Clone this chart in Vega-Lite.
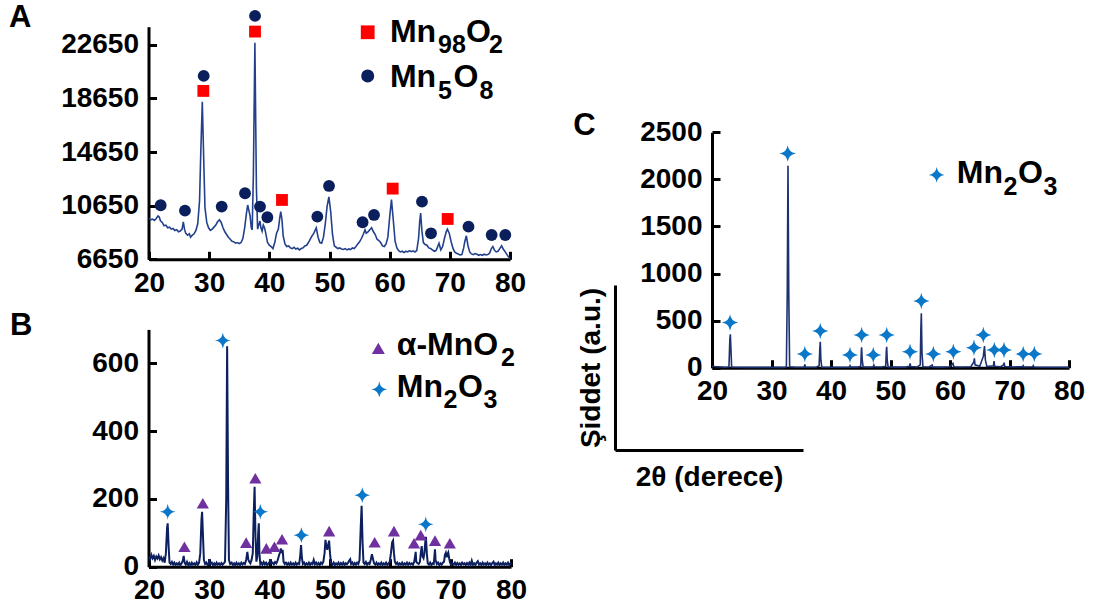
{
  "$schema": "https://vega.github.io/schema/vega-lite/v6.json",
  "width": 1098,
  "height": 614,
  "autosize": {"type": "none"},
  "padding": 0,
  "background": "white",
  "config": {
    "view": {"stroke": null},
    "font": "Liberation Sans",
    "numberFormat": "d",
    "axis": {
      "labelFont": "Liberation Sans", "labelFontSize": 28, "labelFontWeight": "bold", "labelColor": "black",
      "domainColor": "black", "domainWidth": 3, "tickColor": "black", "tickWidth": 3, "tickSize": -8,
      "labelPadding": 18, "grid": false, "labelFlush": false, "labelOverlap": false, "format": "d",
      "titleFont": "Liberation Sans", "titleFontSize": 28, "titleFontWeight": "bold", "titleColor": "black"
    }
  },
  "datasets": {
    "a_line": [
      {"theta":20.0,"intensity":9700},{"theta":20.3,"intensity":9600},{"theta":20.6,"intensity":9650},{"theta":20.9,"intensity":9550},
      {"theta":21.2,"intensity":9700},{"theta":21.5,"intensity":9880},{"theta":21.7,"intensity":9800},{"theta":21.9,"intensity":9520},
      {"theta":22.2,"intensity":9400},{"theta":22.5,"intensity":9150},{"theta":22.8,"intensity":9200},{"theta":23.1,"intensity":9000},
      {"theta":23.4,"intensity":9050},{"theta":23.7,"intensity":8900},{"theta":24.0,"intensity":8950},{"theta":24.3,"intensity":8800},
      {"theta":24.6,"intensity":8850},{"theta":24.9,"intensity":8700},{"theta":25.2,"intensity":8760},{"theta":25.5,"intensity":8900},
      {"theta":25.7,"intensity":9450},{"theta":25.9,"intensity":8900},{"theta":26.1,"intensity":8600},{"theta":26.4,"intensity":8450},
      {"theta":26.7,"intensity":8550},{"theta":26.9,"intensity":8300},{"theta":27.2,"intensity":8450},{"theta":27.5,"intensity":8550},
      {"theta":27.8,"intensity":8800},{"theta":28.1,"intensity":9300},{"theta":28.4,"intensity":11000},{"theta":28.6,"intensity":14500},
      {"theta":28.86,"intensity":18400},{"theta":29.1,"intensity":14000},{"theta":29.3,"intensity":10500},{"theta":29.6,"intensity":9400},
      {"theta":29.9,"intensity":9000},{"theta":30.2,"intensity":8800},{"theta":30.5,"intensity":8900},{"theta":30.8,"intensity":9050},
      {"theta":31.1,"intensity":9200},{"theta":31.4,"intensity":9450},{"theta":31.7,"intensity":9600},{"theta":32.0,"intensity":9400},
      {"theta":32.3,"intensity":9000},{"theta":32.6,"intensity":8700},{"theta":32.9,"intensity":8500},{"theta":33.2,"intensity":8300},
      {"theta":33.5,"intensity":8150},{"theta":33.8,"intensity":8000},{"theta":34.1,"intensity":7950},{"theta":34.4,"intensity":7850},
      {"theta":34.7,"intensity":7900},{"theta":35.0,"intensity":7820},{"theta":35.3,"intensity":7900},{"theta":35.6,"intensity":8200},
      {"theta":35.9,"intensity":9000},{"theta":36.2,"intensity":10100},{"theta":36.4,"intensity":10700},{"theta":36.6,"intensity":10300},
      {"theta":36.8,"intensity":9900},{"theta":37.0,"intensity":9000},{"theta":37.15,"intensity":8850},{"theta":37.35,"intensity":13000},
      {"theta":37.6,"intensity":22800},{"theta":37.85,"intensity":12000},{"theta":38.05,"intensity":8900},{"theta":38.3,"intensity":9300},
      {"theta":38.45,"intensity":9500},{"theta":38.6,"intensity":9000},{"theta":38.8,"intensity":8750},{"theta":39.0,"intensity":9200},
      {"theta":39.2,"intensity":9000},{"theta":39.4,"intensity":8600},{"theta":39.7,"intensity":7900},{"theta":40.0,"intensity":7700},
      {"theta":40.3,"intensity":7600},{"theta":40.6,"intensity":7450},{"theta":40.9,"intensity":7900},{"theta":41.2,"intensity":8600},
      {"theta":41.5,"intensity":8900},{"theta":41.75,"intensity":9800},{"theta":41.9,"intensity":10200},{"theta":42.1,"intensity":9600},
      {"theta":42.3,"intensity":8400},{"theta":42.6,"intensity":7800},{"theta":42.9,"intensity":7600},{"theta":43.2,"intensity":7650},
      {"theta":43.5,"intensity":7500},{"theta":43.8,"intensity":7450},{"theta":44.1,"intensity":7550},{"theta":44.4,"intensity":7420},
      {"theta":44.7,"intensity":7480},{"theta":45.0,"intensity":7350},{"theta":45.3,"intensity":7450},{"theta":45.6,"intensity":7500},
      {"theta":45.9,"intensity":7650},{"theta":46.2,"intensity":7700},{"theta":46.5,"intensity":7900},{"theta":46.8,"intensity":8150},
      {"theta":47.1,"intensity":8400},{"theta":47.4,"intensity":8600},{"theta":47.8,"intensity":9000},{"theta":48.1,"intensity":8300},
      {"theta":48.4,"intensity":7900},{"theta":48.7,"intensity":7850},{"theta":49.0,"intensity":8300},{"theta":49.3,"intensity":9300},
      {"theta":49.6,"intensity":10600},{"theta":49.9,"intensity":11300},{"theta":50.2,"intensity":10200},{"theta":50.5,"intensity":8500},
      {"theta":50.8,"intensity":7650},{"theta":51.1,"intensity":7550},{"theta":51.4,"intensity":7450},{"theta":51.7,"intensity":7500},
      {"theta":52.0,"intensity":7420},{"theta":52.3,"intensity":7380},{"theta":52.6,"intensity":7450},{"theta":52.9,"intensity":7350},
      {"theta":53.2,"intensity":7420},{"theta":53.5,"intensity":7380},{"theta":53.8,"intensity":7500},{"theta":54.1,"intensity":7450},
      {"theta":54.4,"intensity":7600},{"theta":54.7,"intensity":7800},{"theta":55.0,"intensity":7950},{"theta":55.3,"intensity":8200},
      {"theta":55.6,"intensity":8500},{"theta":55.9,"intensity":8850},{"theta":56.1,"intensity":8600},{"theta":56.4,"intensity":8700},
      {"theta":56.7,"intensity":8850},{"theta":57.0,"intensity":9000},{"theta":57.3,"intensity":8700},{"theta":57.6,"intensity":8500},
      {"theta":57.9,"intensity":8150},{"theta":58.2,"intensity":8050},{"theta":58.5,"intensity":7900},{"theta":58.8,"intensity":7650},
      {"theta":59.1,"intensity":7600},{"theta":59.4,"intensity":7800},{"theta":59.7,"intensity":8300},{"theta":60.0,"intensity":9800},
      {"theta":60.3,"intensity":11100},{"theta":60.6,"intensity":9600},{"theta":60.9,"intensity":8000},{"theta":61.2,"intensity":7500},
      {"theta":61.5,"intensity":7300},{"theta":61.8,"intensity":7200},{"theta":62.1,"intensity":7250},{"theta":62.4,"intensity":7150},
      {"theta":62.7,"intensity":7250},{"theta":63.0,"intensity":7200},{"theta":63.3,"intensity":7300},{"theta":63.6,"intensity":7220},
      {"theta":63.9,"intensity":7280},{"theta":64.2,"intensity":7200},{"theta":64.5,"intensity":7300},{"theta":64.8,"intensity":8200},
      {"theta":65.0,"intensity":9500},{"theta":65.15,"intensity":10100},{"theta":65.35,"intensity":8800},{"theta":65.6,"intensity":7900},
      {"theta":65.9,"intensity":7750},{"theta":66.2,"intensity":7700},{"theta":66.5,"intensity":7500},{"theta":66.8,"intensity":7450},
      {"theta":67.1,"intensity":7350},{"theta":67.4,"intensity":7250},{"theta":67.7,"intensity":7300},{"theta":67.9,"intensity":7500},
      {"theta":68.2,"intensity":7850},{"theta":68.5,"intensity":7350},{"theta":68.8,"intensity":7600},{"theta":69.1,"intensity":8200},
      {"theta":69.4,"intensity":8700},{"theta":69.6,"intensity":8900},{"theta":69.9,"intensity":8600},{"theta":70.2,"intensity":8000},
      {"theta":70.5,"intensity":7500},{"theta":70.8,"intensity":7200},{"theta":71.1,"intensity":7100},{"theta":71.4,"intensity":7050},
      {"theta":71.7,"intensity":6980},{"theta":72.0,"intensity":7000},{"theta":72.3,"intensity":7500},{"theta":72.5,"intensity":8000},
      {"theta":72.75,"intensity":8400},{"theta":73.0,"intensity":7700},{"theta":73.3,"intensity":7200},{"theta":73.6,"intensity":7050},
      {"theta":73.9,"intensity":7000},{"theta":74.2,"intensity":7080},{"theta":74.5,"intensity":7020},{"theta":74.8,"intensity":6950},
      {"theta":75.1,"intensity":7000},{"theta":75.4,"intensity":6950},{"theta":75.7,"intensity":7030},{"theta":76.0,"intensity":6980},
      {"theta":76.3,"intensity":7000},{"theta":76.6,"intensity":7100},{"theta":76.9,"intensity":7450},{"theta":77.15,"intensity":7600},
      {"theta":77.4,"intensity":7350},{"theta":77.7,"intensity":7200},{"theta":78.0,"intensity":7250},{"theta":78.3,"intensity":7450},
      {"theta":78.6,"intensity":7650},{"theta":78.9,"intensity":7400},{"theta":79.2,"intensity":7200},{"theta":79.5,"intensity":7000},
      {"theta":79.8,"intensity":6800},{"theta":80.0,"intensity":6700}
    ],
    "a_peaks": [
      {"phase":"Mn98O2","theta":29.03,"intensity":19209},{"phase":"Mn98O2","theta":37.62,"intensity":23636},
      {"phase":"Mn98O2","theta":42.1,"intensity":11077},{"phase":"Mn98O2","theta":60.5,"intensity":11922},
      {"phase":"Mn98O2","theta":69.64,"intensity":9659},
      {"phase":"Mn5O8","theta":21.94,"intensity":10679},{"phase":"Mn5O8","theta":25.98,"intensity":10281},
      {"phase":"Mn5O8","theta":29.09,"intensity":20329},{"phase":"Mn5O8","theta":32.08,"intensity":10580},
      {"phase":"Mn5O8","theta":35.96,"intensity":11574},{"phase":"Mn5O8","theta":37.62,"intensity":24805},
      {"phase":"Mn5O8","theta":38.45,"intensity":10580},{"phase":"Mn5O8","theta":39.67,"intensity":9784},
      {"phase":"Mn5O8","theta":47.98,"intensity":9834},{"phase":"Mn5O8","theta":49.92,"intensity":12121},
      {"phase":"Mn5O8","theta":55.5,"intensity":9411},{"phase":"Mn5O8","theta":57.4,"intensity":9958},
      {"phase":"Mn5O8","theta":65.37,"intensity":10952},{"phase":"Mn5O8","theta":66.87,"intensity":8590},
      {"phase":"Mn5O8","theta":73.1,"intensity":9087},{"phase":"Mn5O8","theta":76.95,"intensity":8465},
      {"phase":"Mn5O8","theta":79.22,"intensity":8465}
    ],
    "a_key": [
      {"phase":"Mn98O2","theta":56.35,"intensity":23584},{"phase":"Mn5O8","theta":56.35,"intensity":20324}
    ],
    "a_text_main": [
      {"theta":60.05,"intensity":22883,"label":"Mn"},{"theta":72.68,"intensity":22883,"label":"O"},
      {"theta":60.05,"intensity":19481,"label":"Mn"},{"theta":70.61,"intensity":19481,"label":"O"}
    ],
    "a_text_sub": [
      {"theta":68.03,"intensity":22025,"label":"98"},{"theta":76.51,"intensity":22025,"label":"2"},
      {"theta":68.03,"intensity":18623,"label":"5"},{"theta":74.93,"intensity":18623,"label":"8"}
    ],
    "a_panel": [{"theta":-3.27,"intensity":23980,"label":"A"}],
    "b_line": [
      {"theta":20.0,"intensity":30},{"theta":20.2,"intensity":22},{"theta":20.4,"intensity":35},{"theta":20.6,"intensity":25},
      {"theta":20.8,"intensity":32},{"theta":21.0,"intensity":20},{"theta":21.2,"intensity":30},{"theta":21.4,"intensity":24},
      {"theta":21.6,"intensity":33},{"theta":21.8,"intensity":22},{"theta":22.0,"intensity":28},{"theta":22.2,"intensity":18},
      {"theta":22.4,"intensity":25},{"theta":22.6,"intensity":12},{"theta":22.8,"intensity":40},{"theta":23.0,"intensity":115},
      {"theta":23.1,"intensity":128},{"theta":23.25,"intensity":60},{"theta":23.4,"intensity":12},{"theta":23.6,"intensity":8},
      {"theta":23.8,"intensity":14},{"theta":24.0,"intensity":6},{"theta":24.2,"intensity":12},{"theta":24.4,"intensity":5},
      {"theta":24.6,"intensity":10},{"theta":24.8,"intensity":6},{"theta":25.0,"intensity":12},{"theta":25.2,"intensity":4},
      {"theta":25.4,"intensity":10},{"theta":25.6,"intensity":18},{"theta":25.75,"intensity":32},{"theta":25.9,"intensity":12},
      {"theta":26.1,"intensity":6},{"theta":26.3,"intensity":14},{"theta":26.5,"intensity":5},{"theta":26.7,"intensity":11},
      {"theta":26.9,"intensity":4},{"theta":27.1,"intensity":12},{"theta":27.3,"intensity":6},{"theta":27.5,"intensity":10},
      {"theta":27.7,"intensity":5},{"theta":27.9,"intensity":13},{"theta":28.1,"intensity":6},{"theta":28.3,"intensity":12},
      {"theta":28.5,"intensity":40},{"theta":28.7,"intensity":140},{"theta":28.8,"intensity":162},{"theta":28.95,"intensity":90},
      {"theta":29.1,"intensity":20},{"theta":29.3,"intensity":8},{"theta":29.5,"intensity":12},{"theta":29.7,"intensity":5},
      {"theta":29.9,"intensity":10},{"theta":30.0,"intensity":22},{"theta":30.15,"intensity":8},{"theta":30.4,"intensity":12},
      {"theta":30.6,"intensity":5},{"theta":30.8,"intensity":10},{"theta":31.0,"intensity":4},{"theta":31.2,"intensity":12},
      {"theta":31.4,"intensity":6},{"theta":31.6,"intensity":10},{"theta":31.8,"intensity":5},{"theta":32.0,"intensity":11},
      {"theta":32.2,"intensity":6},{"theta":32.4,"intensity":10},{"theta":32.6,"intensity":15},{"theta":32.8,"intensity":200},
      {"theta":32.95,"intensity":650},{"theta":33.1,"intensity":250},{"theta":33.25,"intensity":20},{"theta":33.45,"intensity":8},
      {"theta":33.7,"intensity":12},{"theta":33.9,"intensity":5},{"theta":34.1,"intensity":10},{"theta":34.3,"intensity":4},
      {"theta":34.5,"intensity":12},{"theta":34.7,"intensity":6},{"theta":34.9,"intensity":10},{"theta":35.1,"intensity":5},
      {"theta":35.3,"intensity":12},{"theta":35.5,"intensity":7},{"theta":35.7,"intensity":11},{"theta":35.9,"intensity":8},
      {"theta":36.1,"intensity":20},{"theta":36.3,"intensity":44},{"theta":36.45,"intensity":22},{"theta":36.6,"intensity":15},
      {"theta":36.8,"intensity":10},{"theta":37.0,"intensity":20},{"theta":37.2,"intensity":40},{"theta":37.35,"intensity":150},
      {"theta":37.5,"intensity":236},{"theta":37.65,"intensity":90},{"theta":37.8,"intensity":15},{"theta":37.95,"intensity":30},
      {"theta":38.1,"intensity":100},{"theta":38.2,"intensity":128},{"theta":38.3,"intensity":40},{"theta":38.45,"intensity":8},
      {"theta":38.6,"intensity":12},{"theta":38.8,"intensity":6},{"theta":39.0,"intensity":14},{"theta":39.2,"intensity":7},
      {"theta":39.4,"intensity":12},{"theta":39.6,"intensity":5},{"theta":39.8,"intensity":10},{"theta":40.0,"intensity":14},
      {"theta":40.1,"intensity":22},{"theta":40.25,"intensity":9},{"theta":40.5,"intensity":12},{"theta":40.7,"intensity":7},
      {"theta":40.9,"intensity":14},{"theta":41.1,"intensity":10},{"theta":41.3,"intensity":18},{"theta":41.5,"intensity":30},
      {"theta":41.7,"intensity":42},{"theta":41.85,"intensity":54},{"theta":42.0,"intensity":40},{"theta":42.15,"intensity":50},
      {"theta":42.3,"intensity":15},{"theta":42.5,"intensity":8},{"theta":42.7,"intensity":12},{"theta":42.9,"intensity":6},
      {"theta":43.1,"intensity":11},{"theta":43.3,"intensity":5},{"theta":43.5,"intensity":12},{"theta":43.7,"intensity":6},
      {"theta":43.9,"intensity":10},{"theta":44.1,"intensity":5},{"theta":44.3,"intensity":12},{"theta":44.5,"intensity":6},
      {"theta":44.7,"intensity":10},{"theta":44.9,"intensity":8},{"theta":45.05,"intensity":30},{"theta":45.2,"intensity":64},
      {"theta":45.35,"intensity":25},{"theta":45.5,"intensity":8},{"theta":45.7,"intensity":12},{"theta":45.9,"intensity":5},
      {"theta":46.1,"intensity":10},{"theta":46.3,"intensity":6},{"theta":46.5,"intensity":12},{"theta":46.7,"intensity":5},
      {"theta":46.9,"intensity":11},{"theta":47.1,"intensity":8},{"theta":47.3,"intensity":20},{"theta":47.5,"intensity":7},
      {"theta":47.7,"intensity":12},{"theta":47.9,"intensity":6},{"theta":48.1,"intensity":11},{"theta":48.3,"intensity":5},
      {"theta":48.5,"intensity":12},{"theta":48.7,"intensity":8},{"theta":48.9,"intensity":15},{"theta":49.1,"intensity":40},
      {"theta":49.25,"intensity":79},{"theta":49.4,"intensity":60},{"theta":49.55,"intensity":50},{"theta":49.7,"intensity":65},
      {"theta":49.85,"intensity":77},{"theta":50.0,"intensity":40},{"theta":50.15,"intensity":12},{"theta":50.4,"intensity":6},
      {"theta":50.6,"intensity":12},{"theta":50.8,"intensity":5},{"theta":51.0,"intensity":10},{"theta":51.2,"intensity":6},
      {"theta":51.4,"intensity":12},{"theta":51.6,"intensity":5},{"theta":51.8,"intensity":11},{"theta":52.0,"intensity":6},
      {"theta":52.2,"intensity":12},{"theta":52.4,"intensity":5},{"theta":52.6,"intensity":10},{"theta":52.8,"intensity":7},
      {"theta":53.0,"intensity":12},{"theta":53.2,"intensity":18},{"theta":53.35,"intensity":22},{"theta":53.5,"intensity":8},
      {"theta":53.7,"intensity":12},{"theta":53.9,"intensity":5},{"theta":54.1,"intensity":11},{"theta":54.3,"intensity":6},
      {"theta":54.5,"intensity":12},{"theta":54.7,"intensity":8},{"theta":54.9,"intensity":20},{"theta":55.1,"intensity":120},
      {"theta":55.24,"intensity":180},{"theta":55.4,"intensity":70},{"theta":55.55,"intensity":12},{"theta":55.75,"intensity":8},
      {"theta":55.95,"intensity":14},{"theta":56.15,"intensity":6},{"theta":56.35,"intensity":11},{"theta":56.55,"intensity":8},
      {"theta":56.75,"intensity":20},{"theta":56.95,"intensity":37},{"theta":57.1,"intensity":25},{"theta":57.3,"intensity":10},
      {"theta":57.5,"intensity":6},{"theta":57.7,"intensity":12},{"theta":57.9,"intensity":5},{"theta":58.1,"intensity":10},
      {"theta":58.3,"intensity":6},{"theta":58.5,"intensity":12},{"theta":58.7,"intensity":5},{"theta":58.9,"intensity":10},
      {"theta":59.1,"intensity":6},{"theta":59.3,"intensity":12},{"theta":59.5,"intensity":5},{"theta":59.7,"intensity":10},
      {"theta":59.9,"intensity":14},{"theta":60.1,"intensity":40},{"theta":60.3,"intensity":72},{"theta":60.45,"intensity":77},
      {"theta":60.6,"intensity":40},{"theta":60.75,"intensity":15},{"theta":60.95,"intensity":8},{"theta":61.15,"intensity":12},
      {"theta":61.35,"intensity":5},{"theta":61.55,"intensity":10},{"theta":61.75,"intensity":6},{"theta":61.95,"intensity":12},
      {"theta":62.15,"intensity":5},{"theta":62.35,"intensity":10},{"theta":62.55,"intensity":6},{"theta":62.75,"intensity":12},
      {"theta":62.95,"intensity":5},{"theta":63.15,"intensity":11},{"theta":63.35,"intensity":7},{"theta":63.55,"intensity":10},
      {"theta":63.75,"intensity":6},{"theta":63.95,"intensity":14},{"theta":64.1,"intensity":30},{"theta":64.2,"intensity":44},
      {"theta":64.3,"intensity":15},{"theta":64.5,"intensity":10},{"theta":64.7,"intensity":8},{"theta":64.9,"intensity":14},
      {"theta":65.05,"intensity":40},{"theta":65.2,"intensity":61},{"theta":65.35,"intensity":30},{"theta":65.5,"intensity":25},
      {"theta":65.65,"intensity":40},{"theta":65.8,"intensity":75},{"theta":65.9,"intensity":88},{"theta":66.05,"intensity":40},
      {"theta":66.2,"intensity":10},{"theta":66.4,"intensity":6},{"theta":66.6,"intensity":12},{"theta":66.8,"intensity":5},
      {"theta":67.0,"intensity":10},{"theta":67.2,"intensity":8},{"theta":67.3,"intensity":30},{"theta":67.4,"intensity":51},
      {"theta":67.5,"intensity":20},{"theta":67.7,"intensity":8},{"theta":67.9,"intensity":12},{"theta":68.1,"intensity":5},
      {"theta":68.3,"intensity":10},{"theta":68.5,"intensity":6},{"theta":68.7,"intensity":12},{"theta":68.9,"intensity":15},
      {"theta":69.05,"intensity":35},{"theta":69.2,"intensity":41},{"theta":69.35,"intensity":28},{"theta":69.5,"intensity":38},
      {"theta":69.6,"intensity":42},{"theta":69.75,"intensity":25},{"theta":69.9,"intensity":12},{"theta":70.1,"intensity":5},
      {"theta":70.3,"intensity":10},{"theta":70.5,"intensity":6},{"theta":70.7,"intensity":12},{"theta":70.9,"intensity":5},
      {"theta":71.1,"intensity":11},{"theta":71.3,"intensity":6},{"theta":71.5,"intensity":10},{"theta":71.7,"intensity":5},
      {"theta":71.9,"intensity":12},{"theta":72.1,"intensity":7},{"theta":72.3,"intensity":10},{"theta":72.5,"intensity":5},
      {"theta":72.7,"intensity":11},{"theta":72.9,"intensity":6},{"theta":73.1,"intensity":12},{"theta":73.3,"intensity":5},
      {"theta":73.5,"intensity":18},{"theta":73.7,"intensity":6},{"theta":73.9,"intensity":10},{"theta":74.1,"intensity":5},
      {"theta":74.3,"intensity":12},{"theta":74.5,"intensity":16},{"theta":74.7,"intensity":6},{"theta":74.9,"intensity":10},
      {"theta":75.1,"intensity":5},{"theta":75.3,"intensity":12},{"theta":75.5,"intensity":6},{"theta":75.7,"intensity":10},
      {"theta":75.9,"intensity":5},{"theta":76.1,"intensity":12},{"theta":76.3,"intensity":6},{"theta":76.5,"intensity":10},
      {"theta":76.7,"intensity":5},{"theta":76.9,"intensity":11},{"theta":77.1,"intensity":15},{"theta":77.3,"intensity":5},
      {"theta":77.5,"intensity":10},{"theta":77.7,"intensity":6},{"theta":77.9,"intensity":12},{"theta":78.1,"intensity":5},
      {"theta":78.3,"intensity":10},{"theta":78.5,"intensity":6},{"theta":78.7,"intensity":12},{"theta":78.9,"intensity":5},
      {"theta":79.1,"intensity":10},{"theta":79.3,"intensity":6},{"theta":79.5,"intensity":12},{"theta":79.7,"intensity":5},
      {"theta":79.9,"intensity":10},{"theta":80.0,"intensity":8}
    ],
    "b_peaks": [
      {"phase":"Mn2O3","theta":23.1,"intensity":162},{"phase":"Mn2O3","theta":32.24,"intensity":667},
      {"phase":"Mn2O3","theta":38.45,"intensity":162},{"phase":"Mn2O3","theta":45.26,"intensity":93},
      {"phase":"Mn2O3","theta":55.35,"intensity":211},{"phase":"Mn2O3","theta":65.87,"intensity":125},
      {"phase":"a-MnO2","theta":25.87,"intensity":59},{"phase":"a-MnO2","theta":28.92,"intensity":187},
      {"phase":"a-MnO2","theta":36.1,"intensity":71},{"phase":"a-MnO2","theta":37.62,"intensity":261},
      {"phase":"a-MnO2","theta":39.45,"intensity":54},{"phase":"a-MnO2","theta":40.78,"intensity":59},
      {"phase":"a-MnO2","theta":42.05,"intensity":81},{"phase":"a-MnO2","theta":49.86,"intensity":105},
      {"phase":"a-MnO2","theta":57.4,"intensity":72},{"phase":"a-MnO2","theta":60.6,"intensity":105},
      {"phase":"a-MnO2","theta":63.93,"intensity":69},{"phase":"a-MnO2","theta":65.04,"intensity":93},
      {"phase":"a-MnO2","theta":67.4,"intensity":77},{"phase":"a-MnO2","theta":69.86,"intensity":69}
    ],
    "b_key": [
      {"phase":"a-MnO2","theta":58.01,"intensity":644},{"phase":"Mn2O3","theta":58.17,"intensity":523}
    ],
    "b_text_main": [
      {"theta":61.06,"intensity":624.5,"label":"α-MnO"},{"theta":61.06,"intensity":501.5,"label":"Mn"},
      {"theta":71.22,"intensity":501.5,"label":"O"}
    ],
    "b_text_sub": [
      {"theta":78.35,"intensity":590.6,"label":"2"},{"theta":68.81,"intensity":468.1,"label":"2"},
      {"theta":75.44,"intensity":468.1,"label":"3"}
    ],
    "b_panel": [{"theta":-3.04,"intensity":683.5,"label":"B"}],
    "c_line": [
      {"theta":20.0,"intensity":15},{"theta":20.5,"intensity":12},{"theta":21.0,"intensity":10},{"theta":21.5,"intensity":8},
      {"theta":22.0,"intensity":6},{"theta":22.5,"intensity":5},{"theta":22.85,"intensity":10},{"theta":23.0,"intensity":300},
      {"theta":23.08,"intensity":354},{"theta":23.18,"intensity":200},{"theta":23.3,"intensity":8},{"theta":24,"intensity":4},
      {"theta":26,"intensity":3},{"theta":28,"intensity":3},{"theta":30,"intensity":3},{"theta":32,"intensity":3},
      {"theta":32.5,"intensity":8},{"theta":32.65,"intensity":800},{"theta":32.77,"intensity":2145},{"theta":32.9,"intensity":800},
      {"theta":33.05,"intensity":10},{"theta":34,"intensity":4},{"theta":35,"intensity":4},{"theta":35.5,"intensity":8},
      {"theta":35.6,"intensity":35},{"theta":35.7,"intensity":8},{"theta":36.5,"intensity":4},{"theta":37.5,"intensity":5},
      {"theta":38.0,"intensity":20},{"theta":38.12,"intensity":200},{"theta":38.2,"intensity":276},{"theta":38.3,"intensity":80},
      {"theta":38.45,"intensity":6},{"theta":39.5,"intensity":4},{"theta":40.5,"intensity":4},{"theta":41.5,"intensity":5},
      {"theta":42.5,"intensity":5},{"theta":43.1,"intensity":6},{"theta":43.2,"intensity":20},{"theta":43.3,"intensity":6},
      {"theta":44.5,"intensity":6},{"theta":45.0,"intensity":15},{"theta":45.1,"intensity":180},{"theta":45.15,"intensity":216},
      {"theta":45.25,"intensity":80},{"theta":45.4,"intensity":8},{"theta":46.5,"intensity":6},{"theta":47.1,"intensity":10},
      {"theta":47.2,"intensity":28},{"theta":47.3,"intensity":10},{"theta":48.5,"intensity":8},{"theta":49.2,"intensity":15},
      {"theta":49.3,"intensity":180},{"theta":49.36,"intensity":223},{"theta":49.45,"intensity":80},{"theta":49.6,"intensity":8},
      {"theta":51,"intensity":6},{"theta":52.5,"intensity":6},{"theta":53.2,"intensity":15},{"theta":53.3,"intensity":46},
      {"theta":53.4,"intensity":12},{"theta":54.5,"intensity":8},{"theta":55.0,"intensity":30},{"theta":55.1,"intensity":400},
      {"theta":55.18,"intensity":577},{"theta":55.3,"intensity":150},{"theta":55.45,"intensity":10},{"theta":56.5,"intensity":8},
      {"theta":57.0,"intensity":28},{"theta":57.1,"intensity":8},{"theta":58.5,"intensity":6},{"theta":60.0,"intensity":10},
      {"theta":60.5,"intensity":46},{"theta":60.65,"intensity":10},{"theta":62,"intensity":8},{"theta":63.5,"intensity":10},
      {"theta":64.0,"intensity":60},{"theta":64.1,"intensity":99},{"theta":64.2,"intensity":30},{"theta":65.0,"intensity":15},
      {"theta":65.6,"intensity":120},{"theta":65.8,"intensity":230},{"theta":65.95,"intensity":80},{"theta":66.2,"intensity":12},
      {"theta":67.3,"intensity":20},{"theta":67.4,"intensity":71},{"theta":67.5,"intensity":15},{"theta":68.5,"intensity":10},
      {"theta":69.0,"intensity":30},{"theta":69.1,"intensity":53},{"theta":69.2,"intensity":12},{"theta":70.5,"intensity":8},
      {"theta":72.2,"intensity":10},{"theta":72.3,"intensity":21},{"theta":72.4,"intensity":8},{"theta":73.9,"intensity":10},
      {"theta":74.0,"intensity":21},{"theta":74.1,"intensity":8},{"theta":75.5,"intensity":5},{"theta":77,"intensity":4},
      {"theta":78.5,"intensity":4},{"theta":80,"intensity":3}
    ],
    "c_peaks": [
      {"theta":23.03,"intensity":481},{"theta":32.72,"intensity":2276},{"theta":35.6,"intensity":145},
      {"theta":38.2,"intensity":389},{"theta":43.19,"intensity":135},{"theta":45.15,"intensity":347},
      {"theta":47.1,"intensity":135},{"theta":49.36,"intensity":347},{"theta":53.28,"intensity":170},
      {"theta":55.18,"intensity":708},{"theta":57.2,"intensity":145},{"theta":60.56,"intensity":170},
      {"theta":64.03,"intensity":212},{"theta":65.6,"intensity":347},{"theta":67.45,"intensity":188},
      {"theta":69.07,"intensity":188},{"theta":72.3,"intensity":145},{"theta":74.17,"intensity":145}
    ],
    "c_key": [{"theta":57.76,"intensity":2047}],
    "c_text_main": [
      {"theta":61.13,"intensity":1958,"label":"Mn"},{"theta":71.43,"intensity":1958,"label":"O"}
    ],
    "c_text_sub": [
      {"theta":68.99,"intensity":1834,"label":"2"},{"theta":75.71,"intensity":1834,"label":"3"}
    ],
    "c_panel": [{"theta":-3.31,"intensity":2471,"label":"C"}]
  },
  "resolve": {"scale": {"x": "independent", "y": "independent"}},
  "layer": [
    {
      "encoding": {
        "x": {"field": "theta", "type": "quantitative",
              "scale": {"domain": [20, 80], "range": [149, 510], "nice": false, "zero": false},
              "axis": {"orient": "bottom", "offset": -354.7, "values": [20, 30, 40, 50, 60, 70, 80], "title": null, "format": "d"}},
        "y": {"field": "intensity", "type": "quantitative",
              "scale": {"domain": [6650, 24000], "range": [259.3, 26.7], "nice": false, "zero": false},
              "axis": {"orient": "left", "offset": -148.5, "values": [6650, 10650, 14650, 18650, 22650], "title": null, "format": "d"}}
      },
      "layer": [
        {"data": {"name": "a_line"}, "mark": {"type": "line", "color": "#22408c", "strokeWidth": 1.6}},
        {"data": {"name": "a_peaks"}, "transform": [{"filter": "datum.phase == 'Mn98O2'"}],
         "mark": {"type": "square", "color": "#ff0000", "size": 140, "opacity": 1}},
        {"data": {"name": "a_peaks"}, "transform": [{"filter": "datum.phase == 'Mn5O8'"}],
         "mark": {"type": "circle", "color": "#0a1f5c", "size": 140, "opacity": 1}},
        {"data": {"name": "a_key"}, "transform": [{"filter": "datum.phase == 'Mn98O2'"}],
         "mark": {"type": "square", "color": "#ff0000", "size": 190, "opacity": 1}},
        {"data": {"name": "a_key"}, "transform": [{"filter": "datum.phase == 'Mn5O8'"}],
         "mark": {"type": "circle", "color": "#0a1f5c", "size": 170, "opacity": 1}},
        {"data": {"name": "a_text_main"}, "mark": {"type": "text", "align": "left", "baseline": "alphabetic", "fontSize": 32, "fontWeight": "bold", "font": "Liberation Sans", "color": "black"},
         "encoding": {"text": {"field": "label"}}},
        {"data": {"name": "a_text_sub"}, "mark": {"type": "text", "align": "left", "baseline": "alphabetic", "fontSize": 25, "fontWeight": "bold", "font": "Liberation Sans", "color": "black"},
         "encoding": {"text": {"field": "label"}}},
        {"data": {"name": "a_panel"}, "mark": {"type": "text", "align": "left", "baseline": "alphabetic", "fontSize": 31, "fontWeight": "bold", "font": "Liberation Sans", "color": "black"},
         "encoding": {"text": {"field": "label"}}}
      ]
    },
    {
      "encoding": {
        "x": {"field": "theta", "type": "quantitative",
              "scale": {"domain": [20, 80], "range": [149, 511], "nice": false, "zero": false},
              "axis": {"orient": "bottom", "offset": -47.3, "values": [20, 30, 40, 50, 60, 70, 80], "title": null, "format": "d"}},
        "y": {"field": "intensity", "type": "quantitative",
              "scale": {"domain": [0, 700], "range": [566.7, 329.4], "nice": false, "zero": false},
              "axis": {"orient": "left", "offset": -148.5, "values": [0, 200, 400, 600], "title": null, "format": "d"}}
      },
      "layer": [
        {"data": {"name": "b_line"}, "mark": {"type": "line", "color": "#0c1f5e", "strokeWidth": 2}},
        {"data": {"name": "b_peaks"}, "transform": [{"filter": "datum.phase == 'a-MnO2'"}],
         "mark": {"type": "point", "shape": "triangle-up", "filled": true, "color": "#7030a0", "size": 150, "opacity": 1}},
        {"data": {"name": "b_peaks"}, "transform": [{"filter": "datum.phase == 'Mn2O3'"}],
         "mark": {"type": "point", "shape": "M0,-1 Q0.12,-0.12 1,0 Q0.12,0.12 0,1 Q-0.12,0.12 -1,0 Q-0.12,-0.12 0,-1 Z", "filled": true, "color": "#0b77c8", "size": 250, "opacity": 1}},
        {"data": {"name": "b_key"}, "transform": [{"filter": "datum.phase == 'a-MnO2'"}],
         "mark": {"type": "point", "shape": "triangle-up", "filled": true, "color": "#7030a0", "size": 170, "opacity": 1}},
        {"data": {"name": "b_key"}, "transform": [{"filter": "datum.phase == 'Mn2O3'"}],
         "mark": {"type": "point", "shape": "M0,-1 Q0.12,-0.12 1,0 Q0.12,0.12 0,1 Q-0.12,0.12 -1,0 Q-0.12,-0.12 0,-1 Z", "filled": true, "color": "#0b77c8", "size": 250, "opacity": 1}},
        {"data": {"name": "b_text_main"}, "mark": {"type": "text", "align": "left", "baseline": "alphabetic", "fontSize": 32, "fontWeight": "bold", "font": "Liberation Sans", "color": "black"},
         "encoding": {"text": {"field": "label"}}},
        {"data": {"name": "b_text_sub"}, "mark": {"type": "text", "align": "left", "baseline": "alphabetic", "fontSize": 25, "fontWeight": "bold", "font": "Liberation Sans", "color": "black"},
         "encoding": {"text": {"field": "label"}}},
        {"data": {"name": "b_panel"}, "mark": {"type": "text", "align": "left", "baseline": "alphabetic", "fontSize": 31, "fontWeight": "bold", "font": "Liberation Sans", "color": "black"},
         "encoding": {"text": {"field": "label"}}}
      ]
    },
    {
      "encoding": {
        "x": {"field": "theta", "type": "quantitative",
              "scale": {"domain": [20, 80], "range": [712, 1069], "nice": false, "zero": false},
              "axis": {"orient": "bottom", "offset": -246.3, "values": [20, 30, 40, 50, 60, 70, 80], "title": null, "format": "d"}},
        "y": {"field": "intensity", "type": "quantitative",
              "scale": {"domain": [0, 2500], "range": [367.7, 132.3], "nice": false, "zero": false},
              "axis": {"orient": "left", "offset": -712, "values": [0, 500, 1000, 1500, 2000, 2500], "title": null, "format": "d"}}
      },
      "layer": [
        {"data": {"name": "c_line"}, "mark": {"type": "line", "color": "#1c3170", "strokeWidth": 1.6}},
        {"data": {"name": "c_peaks"},
         "mark": {"type": "point", "shape": "M0,-1 Q0.12,-0.12 1,0 Q0.12,0.12 0,1 Q-0.12,0.12 -1,0 Q-0.12,-0.12 0,-1 Z", "filled": true, "color": "#0b77c8", "size": 270, "opacity": 1}},
        {"data": {"name": "c_key"},
         "mark": {"type": "point", "shape": "M0,-1 Q0.12,-0.12 1,0 Q0.12,0.12 0,1 Q-0.12,0.12 -1,0 Q-0.12,-0.12 0,-1 Z", "filled": true, "color": "#0b77c8", "size": 250, "opacity": 1}},
        {"data": {"name": "c_text_main"}, "mark": {"type": "text", "align": "left", "baseline": "alphabetic", "fontSize": 32, "fontWeight": "bold", "font": "Liberation Sans", "color": "black"},
         "encoding": {"text": {"field": "label"}}},
        {"data": {"name": "c_text_sub"}, "mark": {"type": "text", "align": "left", "baseline": "alphabetic", "fontSize": 25, "fontWeight": "bold", "font": "Liberation Sans", "color": "black"},
         "encoding": {"text": {"field": "label"}}},
        {"data": {"name": "c_panel"}, "mark": {"type": "text", "align": "left", "baseline": "alphabetic", "fontSize": 31, "fontWeight": "bold", "font": "Liberation Sans", "color": "black"},
         "encoding": {"text": {"field": "label"}}}
      ]
    },
    {
      "data": {"name": "c_line"},
      "mark": {"type": "point", "opacity": 0},
      "encoding": {
        "x": {"field": "theta", "type": "quantitative",
              "scale": {"domain": [20, 80], "range": [615, 803], "nice": false, "zero": false},
              "axis": {"orient": "bottom", "offset": -164, "ticks": false, "labels": false, "title": "2θ (derece)", "titlePadding": 13}},
        "y": {"field": "intensity", "type": "quantitative",
              "scale": {"domain": [0, 2500], "range": [450, 285], "nice": false, "zero": false},
              "axis": {"orient": "left", "offset": -615, "ticks": false, "labels": false, "title": "Şiddet (a.u.)", "titlePadding": 10}}
      }
    }
  ]
}
